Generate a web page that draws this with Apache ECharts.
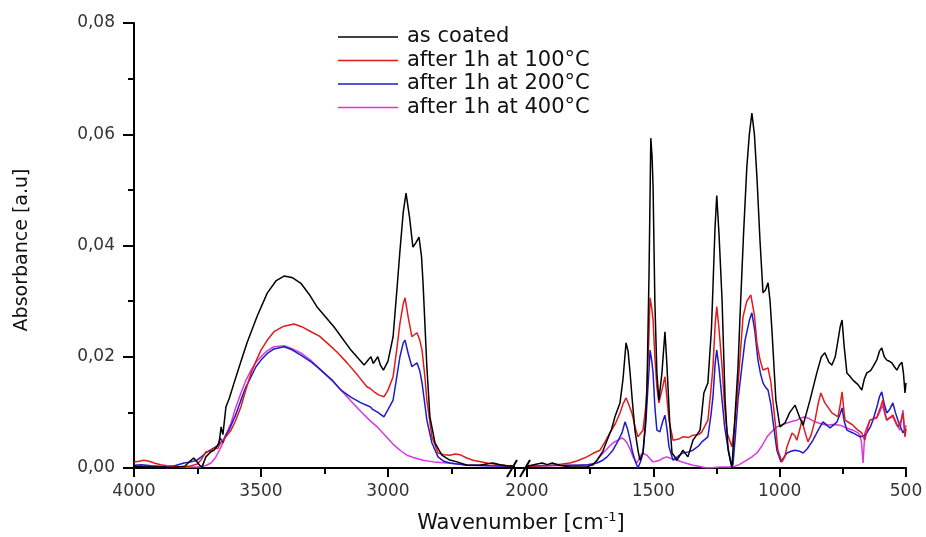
<!DOCTYPE html>
<html>
<head>
<meta charset="utf-8">
<script src="https://cdn.jsdelivr.net/npm/echarts@6/dist/echarts.min.js"></script>
<style>html,body{margin:0;padding:0;background:#fff;}#c{width:926px;height:537px;}</style>
</head>
<body>
<div id="c"></div>
<script>
// ---- Data: [wavenumber (cm-1), absorbance] ----
const seriesNames = ['as coated', 'after 1h at 100°C', 'after 1h at 200°C', 'after 1h at 400°C'];

const asCoated = [
[4000,0.0003],[3950,0.0002],[3900,0.0002],[3850,0.0001],[3800,0.0003],[3780,0.0012],[3765,0.0018],[3750,0.0010],[3740,0.0004],[3732,0.0002],[3717,0.0020],[3700,0.0028],[3685,0.0032],[3665,0.0045],[3657,0.0074],[3650,0.0060],[3638,0.0110],[3625,0.0125],[3606,0.0153],[3580,0.0190],[3555,0.0225],[3516,0.0272],[3476,0.0314],[3440,0.0337],[3409,0.0345],[3375,0.0342],[3343,0.0332],[3310,0.0312],[3280,0.0290],[3213,0.0254],[3146,0.0212],[3094,0.0185],[3075,0.0196],[3067,0.0200],[3058,0.0188],[3051,0.0190],[3040,0.0200],[3030,0.0185],[3018,0.0176],[3000,0.0192],[2980,0.0236],[2965,0.0320],[2953,0.0390],[2940,0.0460],[2929,0.0494],[2915,0.0450],[2902,0.0397],[2890,0.0405],[2878,0.0415],[2868,0.0380],[2862,0.0332],[2847,0.0182],[2835,0.0092],[2815,0.0045],[2788,0.0023],[2760,0.0015],[2728,0.0011],[2689,0.0005],[2640,0.0005],[2600,0.0008],[2587,0.0009],[2560,0.0006],[2532,0.0004],[2500,0.0003],
[2000,0.0003],[1960,0.0007],[1940,0.0009],[1920,0.0006],[1900,0.0009],[1870,0.0005],[1830,0.0002],[1763,0.0002],[1740,0.0006],[1723,0.0014],[1700,0.0030],[1683,0.0050],[1665,0.0070],[1652,0.0092],[1632,0.0117],[1620,0.0160],[1608,0.0225],[1600,0.0210],[1592,0.0171],[1583,0.0120],[1573,0.0068],[1560,0.0030],[1553,0.0014],[1541,0.0027],[1530,0.0090],[1525,0.0146],[1517,0.0350],[1510,0.0593],[1505,0.0560],[1501,0.0505],[1494,0.0300],[1486,0.0171],[1478,0.0122],[1466,0.0171],[1454,0.0245],[1448,0.0200],[1442,0.0146],[1435,0.0080],[1426,0.0027],[1406,0.0014],[1383,0.0032],[1363,0.0020],[1343,0.0050],[1315,0.0068],[1300,0.0135],[1284,0.0153],[1270,0.0250],[1264,0.0325],[1256,0.0430],[1249,0.0490],[1240,0.0420],[1228,0.0302],[1216,0.0122],[1204,0.0032],[1189,0.0000],[1177,0.0092],[1165,0.0180],[1157,0.0272],[1143,0.0420],[1130,0.0541],[1120,0.0600],[1110,0.0638],[1100,0.0600],[1090,0.0523],[1078,0.0410],[1066,0.0315],[1056,0.0320],[1046,0.0333],[1038,0.0300],[1030,0.0243],[1015,0.0122],[999,0.0074],[979,0.0081],[960,0.0100],[939,0.0113],[920,0.0090],[907,0.0077],[880,0.0122],[853,0.0171],[835,0.0200],[821,0.0207],[805,0.0190],[793,0.0185],[780,0.0200],[769,0.0230],[760,0.0255],[753,0.0266],[745,0.0220],[734,0.0171],[722,0.0165],[710,0.0158],[690,0.0150],[675,0.0140],[665,0.0160],[655,0.0171],[640,0.0175],[631,0.0182],[615,0.0195],[605,0.0210],[596,0.0216],[586,0.0200],[576,0.0194],[566,0.0192],[556,0.0189],[546,0.0182],[536,0.0176],[526,0.0185],[516,0.0190],[510,0.0170],[504,0.0135],[500,0.0153]
];

const after100 = [
[4000,0.0011],[3980,0.0012],[3961,0.0014],[3940,0.0012],[3921,0.0009],[3895,0.0006],[3870,0.0004],[3840,0.0003],[3803,0.0002],[3775,0.0004],[3752,0.0007],[3735,0.0015],[3717,0.0029],[3700,0.0030],[3685,0.0036],[3670,0.0035],[3657,0.0047],[3640,0.0055],[3618,0.0068],[3600,0.0085],[3579,0.0110],[3560,0.0140],[3539,0.0171],[3520,0.0192],[3500,0.0212],[3475,0.0230],[3449,0.0245],[3410,0.0255],[3370,0.0259],[3340,0.0254],[3303,0.0245],[3270,0.0237],[3240,0.0225],[3200,0.0208],[3161,0.0189],[3120,0.0167],[3083,0.0146],[3070,0.0143],[3067,0.0146],[3055,0.0137],[3035,0.0131],[3016,0.0128],[3000,0.0140],[2980,0.0164],[2965,0.0215],[2953,0.0260],[2940,0.0295],[2933,0.0306],[2920,0.0270],[2906,0.0236],[2895,0.0240],[2886,0.0243],[2875,0.0230],[2866,0.0212],[2855,0.0165],[2847,0.0122],[2827,0.0056],[2803,0.0027],[2780,0.0024],[2756,0.0023],[2735,0.0025],[2717,0.0024],[2690,0.0018],[2665,0.0014],[2610,0.0009],[2560,0.0006],[2532,0.0004],[2500,0.0003],
[2000,0.0003],[1950,0.0004],[1897,0.0005],[1860,0.0007],[1830,0.0009],[1800,0.0013],[1763,0.0020],[1740,0.0026],[1711,0.0032],[1690,0.0048],[1672,0.0063],[1650,0.0080],[1632,0.0099],[1620,0.0115],[1608,0.0126],[1598,0.0115],[1585,0.0099],[1570,0.0070],[1561,0.0056],[1541,0.0068],[1530,0.0110],[1525,0.0146],[1518,0.0230],[1513,0.0306],[1507,0.0290],[1501,0.0266],[1494,0.0200],[1486,0.0146],[1478,0.0117],[1466,0.0140],[1454,0.0164],[1446,0.0125],[1438,0.0086],[1422,0.0050],[1400,0.0052],[1383,0.0056],[1360,0.0055],[1343,0.0059],[1320,0.0060],[1308,0.0065],[1284,0.0086],[1272,0.0140],[1264,0.0182],[1255,0.0260],[1249,0.0290],[1240,0.0250],[1228,0.0182],[1218,0.0110],[1208,0.0063],[1189,0.0038],[1180,0.0070],[1169,0.0122],[1155,0.0210],[1145,0.0272],[1130,0.0300],[1114,0.0311],[1100,0.0275],[1090,0.0225],[1078,0.0195],[1066,0.0176],[1056,0.0178],[1046,0.0180],[1035,0.0155],[1027,0.0122],[1015,0.0070],[1007,0.0032],[991,0.0011],[980,0.0020],[971,0.0038],[951,0.0063],[940,0.0058],[932,0.0050],[920,0.0070],[912,0.0086],[900,0.0065],[888,0.0047],[875,0.0060],[860,0.0086],[848,0.0115],[837,0.0135],[821,0.0117],[807,0.0108],[793,0.0099],[769,0.0092],[760,0.0115],[753,0.0137],[745,0.0100],[741,0.0086],[720,0.0080],[710,0.0077],[690,0.0068],[675,0.0063],[663,0.0050],[653,0.0070],[643,0.0086],[630,0.0088],[615,0.0092],[600,0.0110],[592,0.0122],[584,0.0100],[576,0.0086],[565,0.0090],[552,0.0095],[542,0.0085],[532,0.0074],[520,0.0085],[512,0.0099],[504,0.0056],[500,0.0070]
];

const after200 = [
[4000,0.0005],[3970,0.0006],[3933,0.0004],[3900,0.0003],[3870,0.0002],[3840,0.0004],[3803,0.0009],[3775,0.0011],[3752,0.0014],[3735,0.0020],[3717,0.0027],[3700,0.0032],[3685,0.0036],[3670,0.0040],[3661,0.0054],[3650,0.0045],[3640,0.0058],[3626,0.0068],[3600,0.0095],[3579,0.0122],[3560,0.0145],[3539,0.0164],[3520,0.0182],[3500,0.0194],[3475,0.0206],[3449,0.0214],[3409,0.0218],[3380,0.0213],[3343,0.0203],[3300,0.0190],[3264,0.0176],[3220,0.0158],[3185,0.0140],[3145,0.0127],[3106,0.0117],[3080,0.0112],[3070,0.0110],[3062,0.0106],[3055,0.0104],[3040,0.0100],[3016,0.0092],[3000,0.0105],[2980,0.0122],[2965,0.0165],[2953,0.0200],[2940,0.0225],[2933,0.0230],[2920,0.0205],[2906,0.0182],[2895,0.0186],[2886,0.0189],[2875,0.0175],[2866,0.0153],[2855,0.0115],[2847,0.0086],[2827,0.0045],[2803,0.0020],[2780,0.0012],[2756,0.0009],[2690,0.0005],[2600,0.0004],[2500,0.0003],
[2000,0.0003],[1950,0.0004],[1900,0.0005],[1850,0.0005],[1800,0.0005],[1760,0.0006],[1723,0.0009],[1700,0.0014],[1683,0.0020],[1660,0.0032],[1644,0.0045],[1624,0.0063],[1612,0.0083],[1602,0.0070],[1592,0.0050],[1583,0.0030],[1573,0.0014],[1561,0.0000],[1550,0.0012],[1541,0.0027],[1530,0.0080],[1525,0.0117],[1518,0.0170],[1513,0.0212],[1507,0.0195],[1501,0.0171],[1494,0.0110],[1486,0.0068],[1474,0.0065],[1462,0.0085],[1454,0.0095],[1446,0.0070],[1438,0.0038],[1422,0.0014],[1400,0.0022],[1383,0.0027],[1360,0.0029],[1343,0.0032],[1320,0.0040],[1308,0.0047],[1284,0.0056],[1272,0.0095],[1264,0.0128],[1255,0.0190],[1249,0.0212],[1240,0.0180],[1228,0.0122],[1218,0.0075],[1208,0.0045],[1193,0.0009],[1185,0.0005],[1175,0.0060],[1165,0.0122],[1150,0.0180],[1137,0.0230],[1120,0.0265],[1110,0.0279],[1098,0.0245],[1086,0.0194],[1076,0.0170],[1066,0.0153],[1056,0.0145],[1046,0.0140],[1035,0.0115],[1027,0.0086],[1011,0.0032],[995,0.0011],[985,0.0018],[971,0.0027],[955,0.0030],[939,0.0032],[920,0.0030],[907,0.0027],[890,0.0035],[868,0.0050],[850,0.0066],[829,0.0083],[815,0.0078],[801,0.0072],[785,0.0078],[773,0.0083],[760,0.0098],[753,0.0108],[745,0.0085],[734,0.0068],[710,0.0063],[682,0.0056],[665,0.0058],[655,0.0063],[640,0.0075],[631,0.0086],[615,0.0110],[605,0.0128],[596,0.0137],[586,0.0115],[576,0.0099],[565,0.0105],[552,0.0117],[542,0.0100],[532,0.0086],[520,0.0072],[512,0.0063],[504,0.0070],[500,0.0068]
];

const after400 = [
[4000,0.0003],[3950,0.0003],[3900,0.0002],[3870,0.0001],[3800,0.0002],[3760,0.0002],[3736,0.0002],[3715,0.0005],[3697,0.0009],[3680,0.0018],[3657,0.0038],[3640,0.0058],[3618,0.0081],[3600,0.0108],[3579,0.0135],[3560,0.0157],[3539,0.0176],[3520,0.0190],[3500,0.0200],[3475,0.0211],[3449,0.0218],[3409,0.0220],[3380,0.0215],[3343,0.0207],[3300,0.0192],[3264,0.0176],[3220,0.0157],[3185,0.0140],[3145,0.0120],[3106,0.0101],[3075,0.0087],[3043,0.0074],[3010,0.0058],[2976,0.0041],[2950,0.0031],[2925,0.0023],[2900,0.0019],[2862,0.0014],[2820,0.0011],[2768,0.0009],[2690,0.0006],[2600,0.0004],[2500,0.0003],
[2000,0.0003],[1900,0.0004],[1800,0.0005],[1739,0.0005],[1720,0.0015],[1699,0.0027],[1680,0.0036],[1660,0.0045],[1640,0.0050],[1624,0.0054],[1612,0.0050],[1604,0.0045],[1590,0.0032],[1580,0.0020],[1565,0.0009],[1555,0.0018],[1545,0.0027],[1535,0.0025],[1525,0.0023],[1510,0.0015],[1501,0.0011],[1490,0.0012],[1474,0.0014],[1460,0.0018],[1446,0.0020],[1430,0.0017],[1406,0.0014],[1380,0.0010],[1343,0.0005],[1320,0.0003],[1288,0.0000],[1260,0.0001],[1236,0.0002],[1185,0.0002],[1160,0.0006],[1130,0.0014],[1110,0.0020],[1090,0.0027],[1070,0.0040],[1050,0.0056],[1030,0.0066],[1011,0.0074],[990,0.0078],[971,0.0081],[950,0.0084],[932,0.0086],[915,0.0090],[900,0.0092],[880,0.0088],[860,0.0083],[840,0.0080],[813,0.0077],[790,0.0078],[761,0.0077],[735,0.0072],[710,0.0068],[690,0.0063],[682,0.0059],[676,0.0045],[670,0.0009],[666,0.0040],[663,0.0063],[653,0.0075],[643,0.0086],[630,0.0088],[615,0.0090],[600,0.0105],[592,0.0113],[584,0.0098],[576,0.0086],[565,0.0090],[552,0.0092],[540,0.0080],[524,0.0068],[512,0.0104],[508,0.0080],[504,0.0063],[500,0.0077]
];

const seriesData = [asCoated, after100, after200, after400];
const seriesColors = ['#000000', '#e01b1b', '#1c1cc8', '#d63ae0'];

// axis ranges (broken axis: 4000–2500 | 2000–500)
const leftRange = [2500, 4000];
const rightRange = [500, 2000];

const FONT = 'DejaVu Sans';
const chart = echarts.init(document.getElementById('c'), null, {renderer: 'canvas'});

const gridTop = 23, gridHeight = 445;
const axisLineStyle = {color: '#000', width: 2};

function xAxisCfg(gridIndex, range, hideLabel) {
  return {
    type: 'value', gridIndex: gridIndex, min: range[0], max: range[1], interval: 500, inverse: true,
    splitLine: {show: false},
    axisLine: {show: true, onZero: false, lineStyle: axisLineStyle},
    axisTick: {show: true, inside: false, length: 9, lineStyle: {color: '#000', width: 2}},
    minorTick: {show: true, splitNumber: 2, length: 6, lineStyle: {color: '#000', width: 2}},
    axisLabel: {
      show: true, margin: 15, color: '#333', fontFamily: FONT, fontSize: 17,
      formatter: function (v) { return v === hideLabel ? '' : String(v); }
    }
  };
}

const series = [];
// draw order: 400, 200, 100, as coated (on top)
[3, 2, 1, 0].forEach(function (i) {
  const left = seriesData[i].filter(function (p) { return p[0] >= leftRange[0]; });
  const right = seriesData[i].filter(function (p) { return p[0] <= rightRange[1]; });
  [left, right].forEach(function (d, g) {
    series.push({
      name: seriesNames[i], type: 'line', xAxisIndex: g, yAxisIndex: g, data: d,
      symbol: 'none', showSymbol: false, smooth: false, animation: false,
      lineStyle: {color: seriesColors[i], width: 1.5}, itemStyle: {color: seriesColors[i]},
      z: 10 - i
    });
  });
});

const option = {
  backgroundColor: '#fff',
  animation: false,
  grid: [
    {left: 134, top: gridTop, width: 381, height: gridHeight, outerBoundsMode: 'none', containLabel: false},
    {left: 527, top: gridTop, width: 379, height: gridHeight, outerBoundsMode: 'none', containLabel: false}
  ],
  xAxis: [xAxisCfg(0, leftRange, 2500), xAxisCfg(1, rightRange, -1)],
  yAxis: [
    {
      type: 'value', gridIndex: 0, min: 0, max: 0.08, interval: 0.02,
      splitLine: {show: false},
      axisLine: {show: true, onZero: false, lineStyle: axisLineStyle},
      axisTick: {show: true, inside: false, length: 11, lineStyle: {color: '#000', width: 2}},
      minorTick: {show: true, splitNumber: 2, length: 6, lineStyle: {color: '#000', width: 2}},
      axisLabel: {
        margin: 19, color: '#333', fontFamily: FONT, fontSize: 17,
        formatter: function (v) { return v.toFixed(2).replace('.', ','); }
      }
    },
    {type: 'value', gridIndex: 1, min: 0, max: 0.08, interval: 0.02, show: false}
  ],
  legend: {
    data: seriesNames.map(function (n, i) {
      return {name: n, icon: 'rect', itemStyle: {color: seriesColors[i], borderWidth: 0}};
    }),
    orient: 'vertical', left: 338, top: 26, padding: 0,
    itemWidth: 60, itemHeight: 1.6, itemGap: 1.5,
    textStyle: {fontFamily: FONT, fontSize: 21, color: '#111', lineHeight: 22, padding: [0, 0, 0, 4]},
    selectedMode: false
  },
  series: series
};
chart.setOption(option);

// break marks and axis titles (decoration)
const xL = chart.convertToPixel({xAxisIndex: 0}, leftRange[0]);
const xR = chart.convertToPixel({xAxisIndex: 1}, rightRange[1]);
const y0 = chart.convertToPixel({yAxisIndex: 0}, 0);
chart.setOption({
  graphic: [
    {type: 'line', shape: {x1: xL, y1: y0, x2: xR, y2: y0}, style: {stroke: '#000', lineWidth: 2}},
    {type: 'line', shape: {x1: xL - 8, y1: y0 + 9, x2: xL + 2, y2: y0 - 8}, style: {stroke: '#000', lineWidth: 2}},
    {type: 'line', shape: {x1: xR - 7, y1: y0 + 9, x2: xR + 3, y2: y0 - 8}, style: {stroke: '#000', lineWidth: 2}},
    {
      type: 'text', x: (xL + xR) / 2, y: 524,
      style: {
        text: 'Wavenumber [cm{sup|-1}]', fill: '#111', font: '21px "DejaVu Sans"',
        align: 'center', verticalAlign: 'middle',
        rich: {sup: {fontSize: 13, fontFamily: FONT, verticalAlign: 'top', padding: [0, 0, 12, 0], fill: '#111'}}
      }
    },
    {
      type: 'text', x: 22, y: 250, rotation: Math.PI / 2,
      style: {text: 'Absorbance [a.u]', fill: '#111', font: '19px "DejaVu Sans"', align: 'center', verticalAlign: 'middle'}
    }
  ]
});
</script>
</body>
</html>
